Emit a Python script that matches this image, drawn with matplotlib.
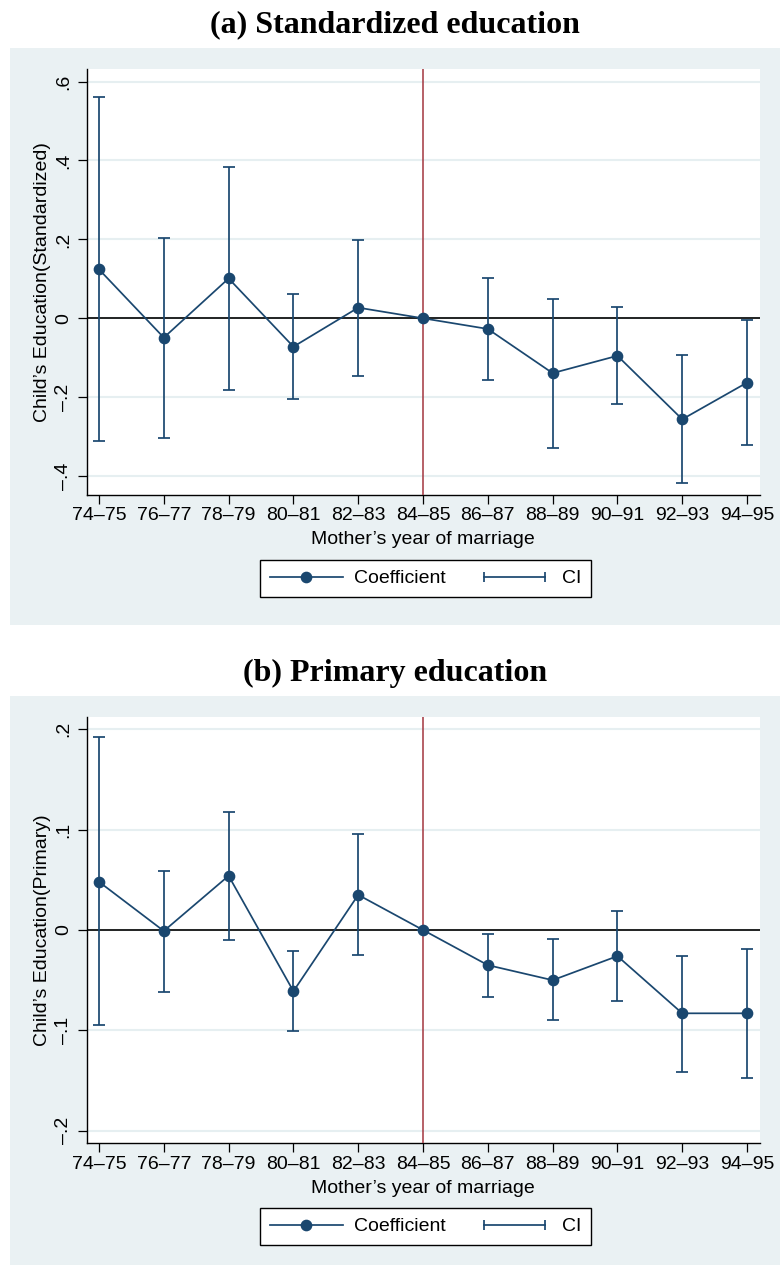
import matplotlib
matplotlib.use("Agg")
import matplotlib.pyplot as plt
import numpy as np
from matplotlib.lines import Line2D
from matplotlib.patches import Rectangle
from matplotlib.legend_handler import HandlerLine2D

plt.rcParams['font.family'] = ['Liberation Sans', 'DejaVu Sans']

# ---------------- data ----------------
categories = ["74–75", "76–77", "78–79", "80–81", "82–83", "84–85",
              "86–87", "88–89", "90–91", "92–93", "94–95"]

coef_a = [0.124, -0.049, 0.101, -0.072, 0.027, 0.0, -0.027, -0.139, -0.095, -0.256, -0.163]
hi_a   = [0.560, 0.204, 0.384, 0.062, 0.198, 0.0, 0.101, 0.050, 0.028, -0.094, -0.005]
lo_a   = [-0.312, -0.303, -0.182, -0.205, -0.145, 0.0, -0.156, -0.328, -0.216, -0.418, -0.320]

coef_b = [0.048, -0.001, 0.054, -0.061, 0.035, 0.0, -0.035, -0.050, -0.026, -0.083, -0.083]
hi_b   = [0.192, 0.059, 0.118, -0.021, 0.096, 0.0, -0.004, -0.009, 0.019, -0.026, -0.019]
lo_b   = [-0.095, -0.062, -0.010, -0.101, -0.025, 0.0, -0.067, -0.090, -0.071, -0.141, -0.147]

yticks_a = [-0.4, -0.2, 0.0, 0.2, 0.4, 0.6]
ylabels_a = ["–.4", "–.2", "0", ".2", ".4", ".6"]
yticks_b = [-0.2, -0.1, 0.0, 0.1, 0.2]
ylabels_b = ["–.2", "–.1", "0", ".1", ".2"]

title_a = "(a) Standardized education"
title_b = "(b) Primary education"
ylab_a = "Child’s Education(Standardized)"
ylab_b = "Child’s Education(Primary)"
xlab = "Mother’s year of marriage"
ref_cat = "84–85"

# ---------------- style ----------------
W, H = 780, 1265
NAVY = "#1A476F"
RED = "#A3363F"
BG = "#EAF1F3"
GRID = "#E6EFF1"
FS = 14

fig = plt.figure(figsize=(W / 100, H / 100), dpi=100)


def fx(px):
    return px / W


def fy(py):
    return 1 - py / H


def panel(bg_top, bg_bot, ax_top, ax_bot, title_y, legend_top,
          coef, lo, hi, yticks, ylabels, ylim, ylab, title):
    fig.patches.append(Rectangle((fx(10), fy(bg_bot)), fx(780) - fx(10), fy(bg_top) - fy(bg_bot),
                                 transform=fig.transFigure, facecolor=BG, edgecolor='none', zorder=-5))
    fig.text(fx(395), fy(title_y), title, ha='center', va='center',
             family=['Liberation Serif', 'DejaVu Serif'], fontweight='bold', fontsize=23)
    ax = fig.add_axes([fx(86.7), fy(ax_bot), fx(760) - fx(86.7), fy(ax_top) - fy(ax_bot)])
    ax.set_facecolor('white')
    x = np.arange(len(categories))
    c = np.array(coef)
    yerr = [c - np.array(lo), np.array(hi) - c]
    ax.errorbar(x, c, yerr=yerr, fmt='none', ecolor=NAVY, elinewidth=1.25,
                capsize=4.2, capthick=1.25, zorder=4)
    ax.plot(x, c, '-o', color=NAVY, lw=1.25, ms=7.4, zorder=5)
    ax.axhline(0, color='black', lw=1.2, zorder=3)
    ax.axvline(categories.index(ref_cat), color=RED, lw=1.1, zorder=3)
    ax.set_xlim(-0.19, 10.2)
    ax.set_ylim(*ylim)
    ax.set_xticks(x)
    ax.set_xticklabels(categories, fontsize=FS)
    ax.set_yticks(yticks)
    ax.set_yticklabels(ylabels, rotation=90, va='center', fontsize=FS)
    ax.tick_params(axis='both', length=6.2, width=0.9, color='black')
    ax.tick_params(axis='x', pad=2.8)
    ax.tick_params(axis='y', pad=4.5)
    ax.yaxis.grid(True, color=GRID, lw=1.5, zorder=0)
    ax.set_axisbelow(True)
    for s in ['top', 'right']:
        ax.spines[s].set_visible(False)
    for s in ['left', 'bottom']:
        ax.spines[s].set_linewidth(1.0)
        ax.spines[s].set_color('black')
    ax.set_xlabel(xlab, fontsize=FS, labelpad=5)
    ax.set_ylabel(ylab, fontsize=FS, labelpad=3)

    h_coef = Line2D([], [], color=NAVY, lw=1.25, marker='o', ms=7.4)
    h_ci = Line2D([], [], color=NAVY, lw=1.25, marker='|', ms=7, mew=1.25)
    leg = fig.legend([h_coef, h_ci], ["Coefficient", "CI"], loc='upper center',
                     bbox_to_anchor=(fx(425.5), fy(legend_top)), bbox_transform=fig.transFigure,
                     ncol=2, fontsize=FS, frameon=True, fancybox=False, edgecolor='black',
                     framealpha=1, handlelength=3.75, columnspacing=1.65, borderpad=0.5,
                     handletextpad=0.57, borderaxespad=0,
                     handler_map={h_coef: HandlerLine2D(numpoints=1),
                                  h_ci: HandlerLine2D(numpoints=2)})
    leg.get_frame().set_linewidth(1.0)
    return ax


panel(48, 625, 69, 495, 25, 560, coef_a, lo_a, hi_a, yticks_a, ylabels_a,
      (-0.4479, 0.6319), ylab_a, title_a)
panel(696, 1265, 716.7, 1143.3, 673, 1208, coef_b, lo_b, hi_b, yticks_b, ylabels_b,
      (-0.2125, 0.2125), ylab_b, title_b)

fig.savefig("out.png", dpi=100)
